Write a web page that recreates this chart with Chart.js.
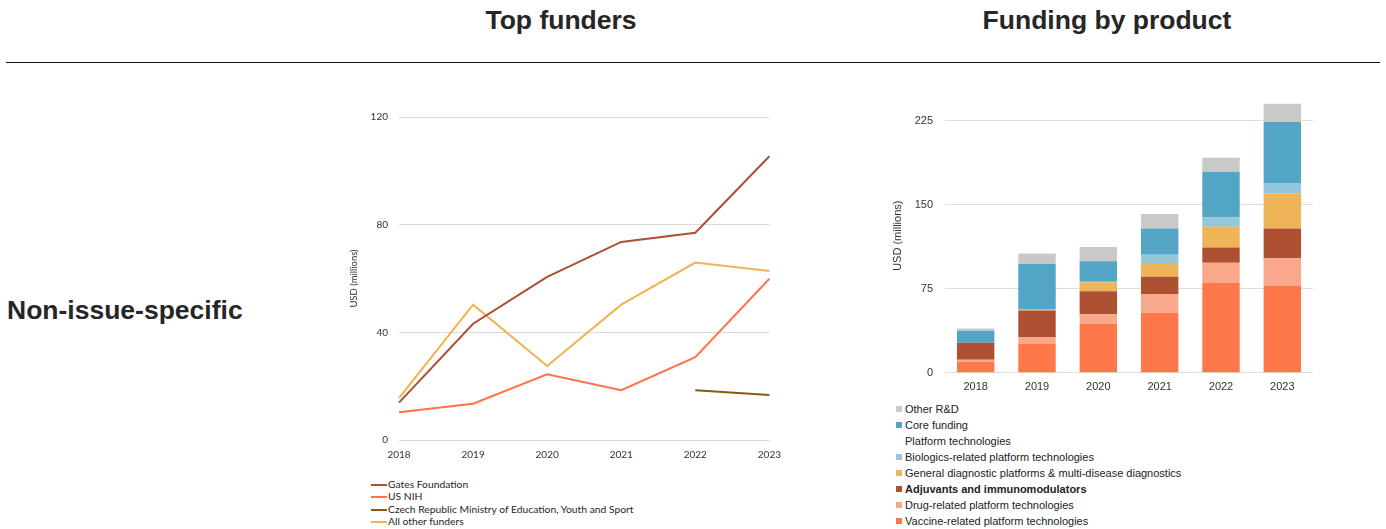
<!DOCTYPE html>
<html>
<head>
<meta charset="utf-8">
<script src="https://cdn.jsdelivr.net/npm/chart.js@4"></script>
<style>
    body { margin: 0; background: #fff; width: 1386px; height: 529px; position: relative; overflow: hidden; font-family: "Liberation Sans", Arial, sans-serif; }
    .title { position: absolute; top: 5px; font-weight: bold; font-size: 26.5px; color: #262626; text-align: center; width: 400px; }
    .rule { position: absolute; left: 6px; top: 62px; width: 1374px; height: 0; border-top: 1.5px solid #111; }
    .row-label { position: absolute; left: 7px; top: 295px; font-weight: bold; font-size: 26.5px; color: #262626; }
    .box { position: absolute; }
    .legend { position: absolute; margin: 0; padding: 0; list-style: none; }
    .legend li { position: relative; white-space: nowrap; }
    #fundersLegend { left: 371px; top: 478px; font-family: Lato, "Open Sans", sans-serif; font-size: 10.3px; color: #262626; }
    #fundersLegend li { height: 12.3px; line-height: 12.3px; padding-left: 17px; }
    #fundersLegend li span { position: absolute; left: 0; top: 6px; width: 16px; height: 2px; }
    #productLegend { left: 896px; top: 401px; font-size: 11px; color: #222; }
    #productLegend li { height: 16px; line-height: 16px; padding-left: 9px; }
    #productLegend li span { position: absolute; left: 0; top: 5px; width: 6px; height: 6px; }
</style>
</head>
<body>
<div class="title" style="left: 361px;">Top funders</div>
<div class="title" style="left: 907px;">Funding by product</div>
<div class="rule"></div>
<div class="row-label">Non-issue-specific</div>

<div class="box" style="left: 340px; top: 100px; width: 442px; height: 362px;"><canvas id="fundersChart"></canvas></div>
<ul class="legend" id="fundersLegend"></ul>

<div class="box" style="left: 885px; top: 80px; width: 435px; height: 314px;"><canvas id="productChart"></canvas></div>
<ul class="legend" id="productLegend"></ul>

<script>
// Top funders, USD millions
const years = ['2018', '2019', '2020', '2021', '2022', '2023'];
const gatesFoundation = [13.9, 43.2, 60.6, 73.6, 77.0, 105.4];
const usNih = [10.3, 13.5, 24.4, 18.5, 30.8, 59.9];
const czechMinistry = [null, null, null, null, 18.5, 16.7];
const allOtherFunders = [15.6, 50.3, 27.5, 50.3, 65.9, 62.8];
const funderTicks = [0, 40, 80, 120];

// Funding by product, USD millions (stacked from the bottom up)
const vaccinePlatforms = [10.1, 26.2, 43.8, 53.6, 80.4, 78.0];
const drugPlatforms = [1.5, 5.7, 8.6, 16.7, 17.9, 24.4];
const adjuvants = [15.2, 23.8, 20.5, 15.5, 13.7, 26.5];
const diagnosticPlatforms = [0, 0.8, 8.0, 12.2, 18.5, 31.5];
const biologicsPlatforms = [0, 0, 0.5, 7.4, 8.3, 9.2];
const coreFunding = [10.7, 41.0, 18.2, 23.5, 40.8, 54.5];
const otherRnd = [2.1, 9.2, 12.8, 13.1, 12.5, 16.4];
const productTicks = [0, 75, 150, 225];

const funderSeries = [
    { label: 'Gates Foundation', data: gatesFoundation, color: '#ac4f32' },
    { label: 'US NIH', data: usNih, color: '#ff7347' },
    { label: 'Czech Republic Ministry of Education, Youth and Sport', data: czechMinistry, color: '#8a5912' },
    { label: 'All other funders', data: allOtherFunders, color: '#f1b24f' }
];

const productSeries = [
    { label: 'Vaccine-related platform technologies', data: vaccinePlatforms, color: '#ff7849' },
    { label: 'Drug-related platform technologies', data: drugPlatforms, color: '#f9a88b' },
    { label: 'Adjuvants and immunomodulators', data: adjuvants, color: '#ad5132', bold: true },
    { label: 'General diagnostic platforms & multi-disease diagnostics', data: diagnosticPlatforms, color: '#f0b458' },
    { label: 'Biologics-related platform technologies', data: biologicsPlatforms, color: '#93c7dd' },
    { label: 'Core funding', data: coreFunding, color: '#53a5c5' },
    { label: 'Other R&D', data: otherRnd, color: '#c9c9c9' }
];

const calibriLike = 'Lato, "Open Sans", sans-serif';
const arialLike = '"Liberation Sans", Arial, sans-serif';

document.addEventListener('DOMContentLoaded', function() {
    new Chart(document.getElementById('fundersChart').getContext('2d'), {
        type: 'line',
        data: {
            labels: years,
            datasets: funderSeries.map(s => ({
                label: s.label,
                data: s.data,
                borderColor: s.color,
                backgroundColor: s.color,
                borderWidth: 2,
                pointRadius: 0,
                tension: 0,
                spanGaps: false
            }))
        },
        options: {
            responsive: true,
            maintainAspectRatio: false,
            animation: false,
            layout: { padding: { top: 11, right: 0, bottom: 0, left: 8 } },
            plugins: { legend: { display: false }, tooltip: { enabled: false } },
            scales: {
                x: {
                    offset: false,
                    grid: { display: false },
                    border: { display: false },
                    ticks: { color: '#333', font: { family: calibriLike, size: 10 }, padding: 1, maxRotation: 0 }
                },
                y: {
                    min: 0,
                    max: 120,
                    afterBuildTicks: axis => { axis.ticks = funderTicks.map(v => ({ value: v })); },
                    afterFit: axis => { axis.width = 51; },
                    grid: { color: '#d9d9d9', drawTicks: false },
                    border: { display: false },
                    ticks: { color: '#333', font: { family: calibriLike, size: 10 }, padding: 11 },
                    title: { display: true, text: 'USD (millions)', color: '#333', font: { family: calibriLike, size: 9.5 }, padding: 0 }
                }
            }
        }
    });

    new Chart(document.getElementById('productChart').getContext('2d'), {
        type: 'bar',
        data: {
            labels: years,
            datasets: productSeries.map(s => ({
                label: s.label,
                data: s.data,
                backgroundColor: s.color,
                borderWidth: 0,
                barPercentage: 0.61,
                categoryPercentage: 1.0
            }))
        },
        options: {
            responsive: true,
            maintainAspectRatio: false,
            animation: false,
            layout: { padding: { top: 7, right: 7, bottom: 0, left: 6 } },
            plugins: { legend: { display: false }, tooltip: { enabled: false } },
            scales: {
                x: {
                    stacked: true,
                    grid: { display: false },
                    border: { display: false },
                    ticks: { color: '#333', font: { family: arialLike, size: 11 }, padding: 0 }
                },
                y: {
                    stacked: true,
                    min: 0,
                    max: 245,
                    afterBuildTicks: axis => { axis.ticks = productTicks.map(v => ({ value: v })); },
                    afterFit: axis => { axis.width = 54; },
                    grid: { color: '#dedede', drawTicks: false },
                    border: { display: false },
                    ticks: { color: '#333', font: { family: arialLike, size: 11 }, padding: 12 },
                    title: { display: true, text: 'USD (millions)', color: '#333', font: { family: arialLike, size: 11 }, padding: 0 }
                }
            }
        }
    });

    // Legends
    const fl = document.getElementById('fundersLegend');
    funderSeries.forEach(s => {
        const li = document.createElement('li');
        li.innerHTML = '<span style="background:' + s.color + '"></span>';
        li.appendChild(document.createTextNode(s.label));
        fl.appendChild(li);
    });

    const pl = document.getElementById('productLegend');
    const legendOrder = productSeries.slice().reverse();
    legendOrder.splice(2, 0, { label: 'Platform technologies', color: null });
    legendOrder.forEach(s => {
        const li = document.createElement('li');
        if (s.color) li.innerHTML = '<span style="background:' + s.color + '"></span>';
        if (s.bold) li.style.fontWeight = 'bold';
        li.appendChild(document.createTextNode(s.label));
        pl.appendChild(li);
    });
});
</script>
</body>
</html>
